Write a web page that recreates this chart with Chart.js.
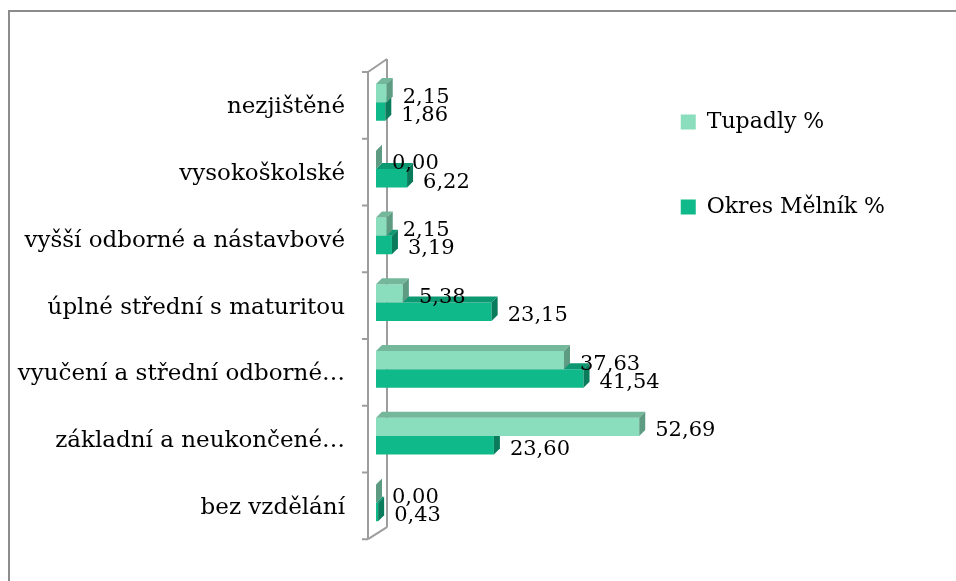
<!DOCTYPE html>
<html lang="cs">
<head>
<meta charset="UTF-8">
<title>Vzdělání – Tupadly a okres Mělník</title>
<script src="https://cdn.jsdelivr.net/npm/chart.js"></script>
<style>
  html, body { margin: 0; padding: 0; background: #fff; overflow: hidden; }
  .frame { position: absolute; left: 8px; top: 10px; width: 1000px; height: 700px; border: 2px solid #8c8c8c; }
  .wrap { position: absolute; left: 0; top: 0; width: 956px; height: 581px; }
</style>
</head>
<body>
<div class="frame"></div>
<div class="wrap"><canvas id="eduChart"></canvas></div>
<script>
const categories = [
  'nezjištěné',
  'vysokoškolské',
  'vyšší odborné a nástavbové',
  'úplné střední s maturitou',
  'vyučení a střední odborné…',
  'základní a neukončené…',
  'bez vzdělání'
];
const tupadly = [2.15, 0.00, 2.15, 5.38, 37.63, 52.69, 0.00];
const okresMelnik = [1.86, 6.22, 3.19, 23.15, 41.54, 23.60, 0.43];
const seriesNames = ['Tupadly %', 'Okres Mělník %'];

const serif = '"DejaVu Serif", "Liberation Serif", serif';
const depth = 6;
const faceColors = [
  { top: '#74b79b', side: '#5d9c82' },
  { top: '#0c9871', side: '#0a7b5b' }
];

// side and top faces of the 3D bars
const bars3d = {
  id: 'bars3d',
  afterDatasetDraw(chart, args) {
    const ctx = chart.ctx;
    const c = faceColors[args.index];
    args.meta.data.forEach(bar => {
      const { x, y, base, height } = bar.getProps(['x', 'y', 'base', 'height'], true);
      const top = y - height / 2;
      const bottom = y + height / 2;
      ctx.save();
      ctx.fillStyle = c.top;
      ctx.beginPath();
      ctx.moveTo(base, top);
      ctx.lineTo(x, top);
      ctx.lineTo(x + depth, top - depth);
      ctx.lineTo(base + depth, top - depth);
      ctx.closePath();
      ctx.fill();
      ctx.fillStyle = c.side;
      ctx.beginPath();
      ctx.moveTo(x, top);
      ctx.lineTo(x + depth, top - depth);
      ctx.lineTo(x + depth, bottom - depth);
      ctx.lineTo(x, bottom);
      ctx.closePath();
      ctx.fill();
      ctx.restore();
    });
  }
};

// the slanted category axis "wall"
const axisWall = {
  id: 'axisWall',
  beforeDatasetsDraw(chart) {
    const { ctx, chartArea: a } = chart;
    const yScale = chart.scales.y;
    const f = a.left - 8;
    const b = a.left + 11;
    const t = a.top + 3;
    const btm = a.bottom + 3;
    ctx.save();
    ctx.strokeStyle = '#9d9d9d';
    ctx.lineWidth = 2;
    ctx.beginPath();
    ctx.moveTo(f, t); ctx.lineTo(f, btm);
    ctx.moveTo(b, t - 13); ctx.lineTo(b, btm - 12);
    ctx.moveTo(f, t); ctx.lineTo(b, t - 13);
    ctx.moveTo(f, btm); ctx.lineTo(b, btm - 12);
    for (let i = 0; i <= categories.length; i++) {
      const yy = yScale.getPixelForValue(i - 0.5) + 3;
      ctx.moveTo(f - 6, yy);
      ctx.lineTo(f, yy);
    }
    ctx.stroke();
    ctx.restore();
  }
};

const valueLabels = {
  id: 'valueLabels',
  afterDatasetsDraw(chart) {
    const ctx = chart.ctx;
    ctx.save();
    ctx.font = '21px ' + serif;
    ctx.fillStyle = '#000';
    ctx.textAlign = 'left';
    ctx.textBaseline = 'middle';
    chart.data.datasets.forEach((ds, i) => {
      chart.getDatasetMeta(i).data.forEach((bar, j) => {
        ctx.fillText(ds.data[j].toFixed(2).replace('.', ','), bar.x + 16, bar.y + 4);
      });
    });
    ctx.restore();
  }
};

// move the legend up next to the plot top
const legendPlace = {
  id: 'legendPlace',
  afterLayout(chart) {
    const lg = chart.legend;
    const pad = lg.options.labels.padding;
    lg.left = chart.chartArea.right + 5 - pad;
    lg.top = chart.chartArea.top - 21;
  }
};

new Chart(document.getElementById('eduChart'), {
  type: 'bar',
  data: {
    labels: categories,
    datasets: [
      { label: seriesNames[0], data: tupadly, backgroundColor: '#8addbd', borderWidth: 0 },
      { label: seriesNames[1], data: okresMelnik, backgroundColor: '#10b98a', borderWidth: 0 }
    ]
  },
  options: {
    indexAxis: 'y',
    responsive: true,
    maintainAspectRatio: false,
    animation: false,
    datasets: { bar: { barPercentage: 1, categoryPercentage: 0.55 } },
    layout: { padding: { top: 69, bottom: 42, left: 0, right: 55 } },
    scales: {
      x: { display: false, min: 0, max: 60 },
      y: {
        grid: { display: false, drawTicks: false },
        border: { display: false },
        ticks: { color: '#000', font: { family: serif, size: 23 }, padding: 31, autoSkip: false, labelOffset: 5 },
        afterFit(scale) { scale.width = 376; }
      }
    },
    plugins: {
      legend: {
        position: 'right',
        align: 'start',
        labels: { color: '#000', font: { family: serif, size: 22 }, boxWidth: 15, boxHeight: 15, padding: 63 }
      },
      tooltip: { enabled: false }
    }
  },
  plugins: [axisWall, bars3d, valueLabels, legendPlace]
});
</script>
</body>
</html>
